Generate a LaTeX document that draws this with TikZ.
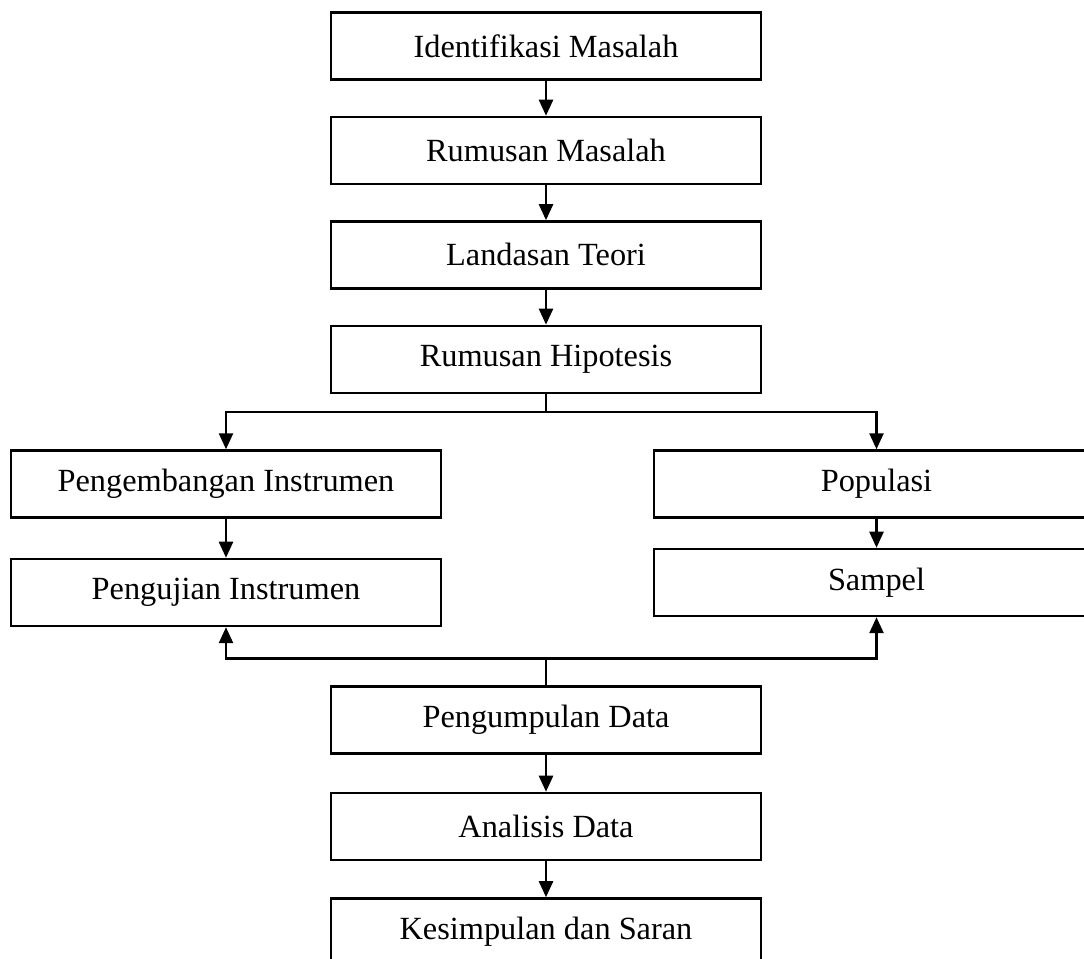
\documentclass[tikz,border=0pt]{standalone}
\usepackage{fontspec}
\setmainfont{Liberation Serif}
\usepackage{tikz}
\usetikzlibrary{positioning, arrows.meta, calc}

\begin{document}
\begin{tikzpicture}[
    boxmid/.style={rectangle, draw=black, line width=1.4pt, minimum width=8.6cm, minimum height=1.34cm, font=\fontsize{18.4}{22}\selectfont},
    boxleft/.style={rectangle, draw=black, line width=1.4pt, minimum width=8.6cm, minimum height=1.34cm, font=\fontsize{18.4}{22}\selectfont},
    boxright/.style={rectangle, draw=black, line width=1.4pt, minimum width=8.9cm, minimum height=1.34cm, font=\fontsize{18.4}{22}\selectfont},
    arr/.style={line width=1.4pt, -{Triangle[length=0.32cm, width=0.28cm]}},
    ln/.style={line width=1.4pt}
]
\useasboundingbox (0,0) rectangle (21.68,-19.16);
\clip (0,0) rectangle (21.68,-19.16);

\node[boxmid](box_1) at (10.92,-0.92){Identifikasi Masalah};
\node[boxmid](box_2)[below = 0.7cm of box_1]{Rumusan Masalah};
\node[boxmid](box_3)[below = 0.7cm of box_2]{Landasan Teori};
\node[boxmid](box_4)[below = 0.7cm of box_3]{Rumusan Hipotesis};

\node[boxleft](box_l_1) at (4.52,-9.68){Pengembangan Instrumen};
\node[boxleft](box_l_2)[below = 0.78cm of box_l_1]{Pengujian Instrumen};
\node[boxright](box_r_1) at (17.53,-9.68){Populasi};
\node[boxright](box_r_2)[below = 0.58cm of box_r_1]{Sampel};

\node[boxmid](box_5) at (10.92,-14.4){Pengumpulan Data};
\node[boxmid](box_6)[below = 0.74cm of box_5]{Analisis Data};
\node[boxmid](box_7)[below = 0.72cm of box_6]{Kesimpulan dan Saran};

\coordinate (split_top) at ($(box_4.south) + (0,-0.36)$);
\coordinate (split_bot) at ($(box_5.north) + (0,0.54)$);

\draw[arr] (box_1.south) -- (box_2.north);
\draw[arr] (box_2.south) -- (box_3.north);
\draw[arr] (box_3.south) -- (box_4.north);

\draw[ln] (box_4.south) -- (split_top);
\draw[arr] (split_top) -| (box_l_1.north);
\draw[arr] (split_top) -| (box_r_1.north);

\draw[arr] (box_l_1.south) -- (box_l_2.north);
\draw[arr] (box_r_1.south) -- (box_r_2.north);

\draw[ln] (box_5.north) -- (split_bot);
\draw[arr] (split_bot) -| (box_l_2.south);
\draw[arr] (split_bot) -| (box_r_2.south);

\draw[arr] (box_5.south) -- (box_6.north);
\draw[arr] (box_6.south) -- (box_7.north);
\end{tikzpicture}
\end{document}
